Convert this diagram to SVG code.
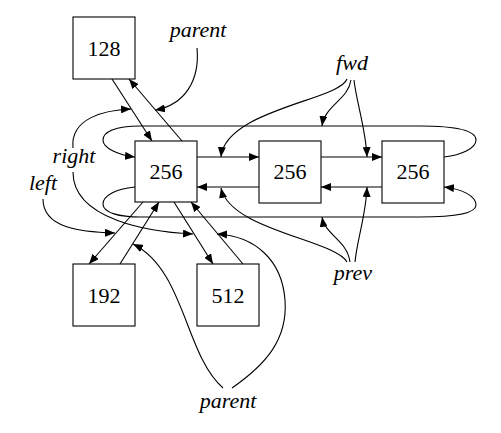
<svg xmlns="http://www.w3.org/2000/svg" width="501" height="433" viewBox="0 0 501 433">
<defs>
<marker id="ah" markerWidth="11" markerHeight="8" refX="10" refY="4" orient="auto" markerUnits="userSpaceOnUse">
<path d="M0,0 L10,4 L0,8 z" fill="#000"/>
</marker>
<style>
.box{fill:#fff;stroke:#000;stroke-width:1.1}
.num{font-size:22px;text-anchor:middle;fill:#000}
.lbl{font-size:22px;font-style:italic;text-anchor:middle;fill:#000}
.c{fill:none;stroke:#000;stroke-width:1.1;marker-end:url(#ah)}
</style>
</defs>
<rect width="501" height="433" fill="#fff"/>
<g id="connectors">
<path class="c" d="M112,79 L152,141"/>
<path class="c" d="M182,141 L129,79"/>
<path class="c" d="M143,202 L89,264"/>
<path class="c" d="M120,264 L159,202"/>
<path class="c" d="M174,202 L213,264"/>
<path class="c" d="M243,264 L191,202"/>
<path class="c" d="M197,157 L259,157"/>
<path class="c" d="M259,187 L197,187"/>
<path class="c" d="M321,157 L382,157"/>
<path class="c" d="M382,187 L321,187"/>
<path class="c" d="M444,157 C462,155 476,148 476,140 C476,130 455,126 420,126 L140,126 C115,126 103,132 103,140 C103,148 118,155 135,157"/>
<path class="c" d="M135,187 C115,189 103,196 103,204 C103,213 120,217 140,217 L420,217 C455,217 476,213 476,205 C476,196 462,189 444,187"/>
<path class="c" d="M73,148 C70,118 105,110 131,109"/>
<path class="c" d="M73,172 C73,220 150,232 193,234"/>
<path class="c" d="M43,199 C43,228 80,232 115,233"/>
<path class="c" d="M197,48 C200,80 185,105 155,110"/>
<path class="c" d="M347,79 C340,100 225,110 221,157"/>
<path class="c" d="M351,80 C348,100 325,105 322,126"/>
<path class="c" d="M354,80 C356,100 366,130 367,157"/>
<path class="c" d="M347,262 C335,240 230,230 221,188"/>
<path class="c" d="M350,262 C347,240 325,235 322,217"/>
<path class="c" d="M355,262 C357,240 366,215 367,187"/>
<path class="c" d="M223,388 C185,355 185,270 133,244"/>
<path class="c" d="M232,388 C265,365 288,340 285,300 C282,260 255,236 217,234"/>
</g>
<g font-family="'Liberation Serif', 'DejaVu Serif', serif">
<g id="n128"><rect class="box" x="73" y="17" width="62" height="62"/><text class="num" x="104" y="56">128</text></g>
<g id="n256a"><rect class="box" x="135" y="141" width="62" height="61"/><text class="num" x="166" y="179">256</text></g>
<g id="n256b"><rect class="box" x="259" y="141" width="62" height="62"/><text class="num" x="290" y="179">256</text></g>
<g id="n256c"><rect class="box" x="382" y="141" width="62" height="62"/><text class="num" x="413" y="179">256</text></g>
<g id="n192"><rect class="box" x="73" y="264" width="62" height="62"/><text class="num" x="104" y="303">192</text></g>
<g id="n512"><rect class="box" x="197" y="264" width="62" height="62"/><text class="num" x="228" y="303">512</text></g>
<g id="labels">
<text class="lbl" x="198" y="37">parent</text>
<text class="lbl" x="352" y="70">fwd</text>
<text class="lbl" x="74" y="163">right</text>
<text class="lbl" x="43" y="190">left</text>
<text class="lbl" x="353" y="280">prev</text>
<text class="lbl" x="228" y="408">parent</text>
</g>
</g>
</svg>
